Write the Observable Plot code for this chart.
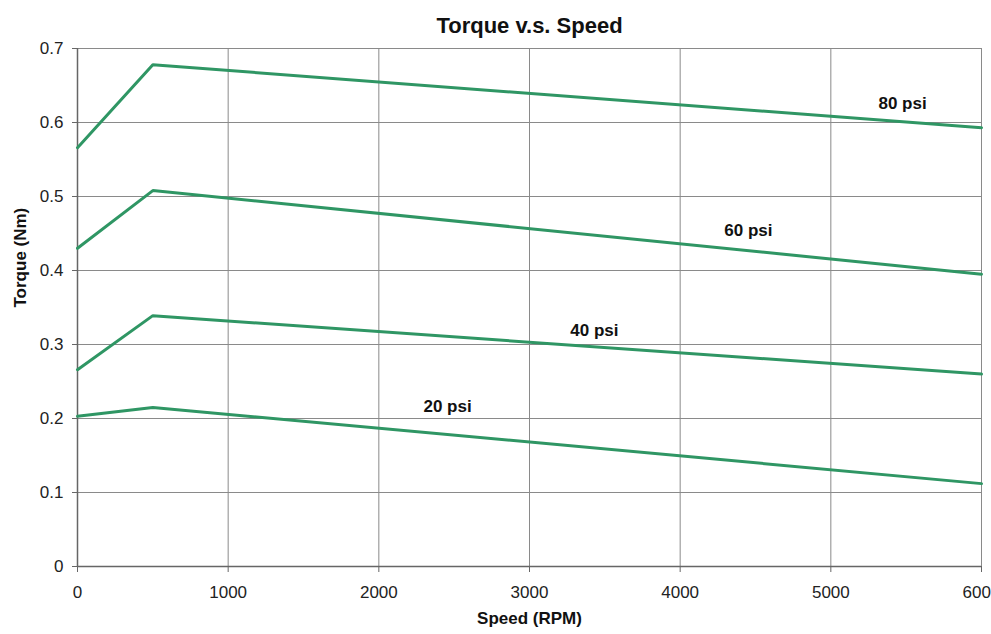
<!DOCTYPE html>
<html>
<head>
<meta charset="utf-8">
<script src="https://cdn.jsdelivr.net/npm/d3@7"></script>
<script src="https://cdn.jsdelivr.net/npm/@observablehq/plot@0.6"></script>
<style>
  html, body { margin: 0; padding: 0; background: #fff; }
  #chart svg { display: block; }
</style>
</head>
<body>
<div id="chart"></div>
<script>
const speeds = [0, 500, 6000];
const torque80 = [0.566, 0.678, 0.593];
const torque60 = [0.430, 0.508, 0.395];
const torque40 = [0.266, 0.339, 0.260];
const torque20 = [0.203, 0.215, 0.112];
const seriesNames = ["80 psi", "60 psi", "40 psi", "20 psi"];
const labelSpeed = [5476, 4453, 3431, 2456];
const labelTorque = [0.626, 0.4545, 0.3193, 0.2166];
const xTicks = [0, 1000, 2000, 3000, 4000, 5000, 6000];
const xTickLabels = ["0", "1000", "2000", "3000", "4000", "5000", "6000"];
const yTicks = [0, 0.1, 0.2, 0.3, 0.4, 0.5, 0.6, 0.7];
const yTickLabels = ["0", "0.1", "0.2", "0.3", "0.4", "0.5", "0.6", "0.7"];

const allSeries = [torque80, torque60, torque40, torque20];
const rows = [];
allSeries.forEach((vals, i) => {
  vals.forEach((v, j) => rows.push({series: seriesNames[i], speed: speeds[j], torque: v}));
});
const labels = seriesNames.map((n, i) => ({name: n, speed: labelSpeed[i], torque: labelTorque[i]}));

const green = "#2f9664";
const font = "'Liberation Sans', Arial, sans-serif";

const chart = Plot.plot({
  width: 991,
  height: 634,
  marginTop: 48,
  marginBottom: 68,
  marginLeft: 77,
  marginRight: 10,
  style: {fontFamily: font, fontSize: "17px", color: "#222", background: "#fff"},
  x: {domain: [0, 6000], ticks: xTicks, label: null},
  y: {domain: [0, 0.7], ticks: yTicks, label: null},
  marks: [
    Plot.gridX(xTicks, {stroke: "#8a8a8a", strokeOpacity: 1}),
    Plot.gridY(yTicks, {stroke: "#8a8a8a", strokeOpacity: 1}),
    Plot.frame({stroke: "#8a8a8a"}),
    Plot.ruleX([0], {stroke: "#666", strokeWidth: 1.5}),
    Plot.ruleY([0], {stroke: "#666", strokeWidth: 1.5}),
    Plot.axisX(xTicks, {tickSize: 6, tickPadding: 13, stroke: "#666", fill: "#222", fontSize: 17,
      tickFormat: (d) => xTickLabels[xTicks.indexOf(d)]}),
    Plot.axisY(yTicks, {tickSize: 5, tickPadding: 9, stroke: "#666", fill: "#222", fontSize: 17,
      tickFormat: (d) => yTickLabels[yTicks.indexOf(d)]}),
    Plot.line(rows, {x: "speed", y: "torque", z: "series", stroke: green, strokeWidth: 3, strokeLinejoin: "miter"}),
    Plot.text(labels, {x: "speed", y: "torque", text: "name", fontWeight: "bold", fontSize: 17, fill: "#111"}),
    Plot.text(["Torque v.s. Speed"], {frameAnchor: "top", dy: -31, fontWeight: "bold", fontSize: 22, fill: "#111"}),
    Plot.text(["Speed (RPM)"], {frameAnchor: "bottom", dy: 57, fontWeight: "bold", fontSize: 17, fill: "#111"}),
    Plot.text(["Torque (Nm)"], {frameAnchor: "left", dx: -57, rotate: -90, fontWeight: "bold", fontSize: 17, fill: "#111"})
  ]
});
document.getElementById("chart").appendChild(chart);
</script>
</body>
</html>
